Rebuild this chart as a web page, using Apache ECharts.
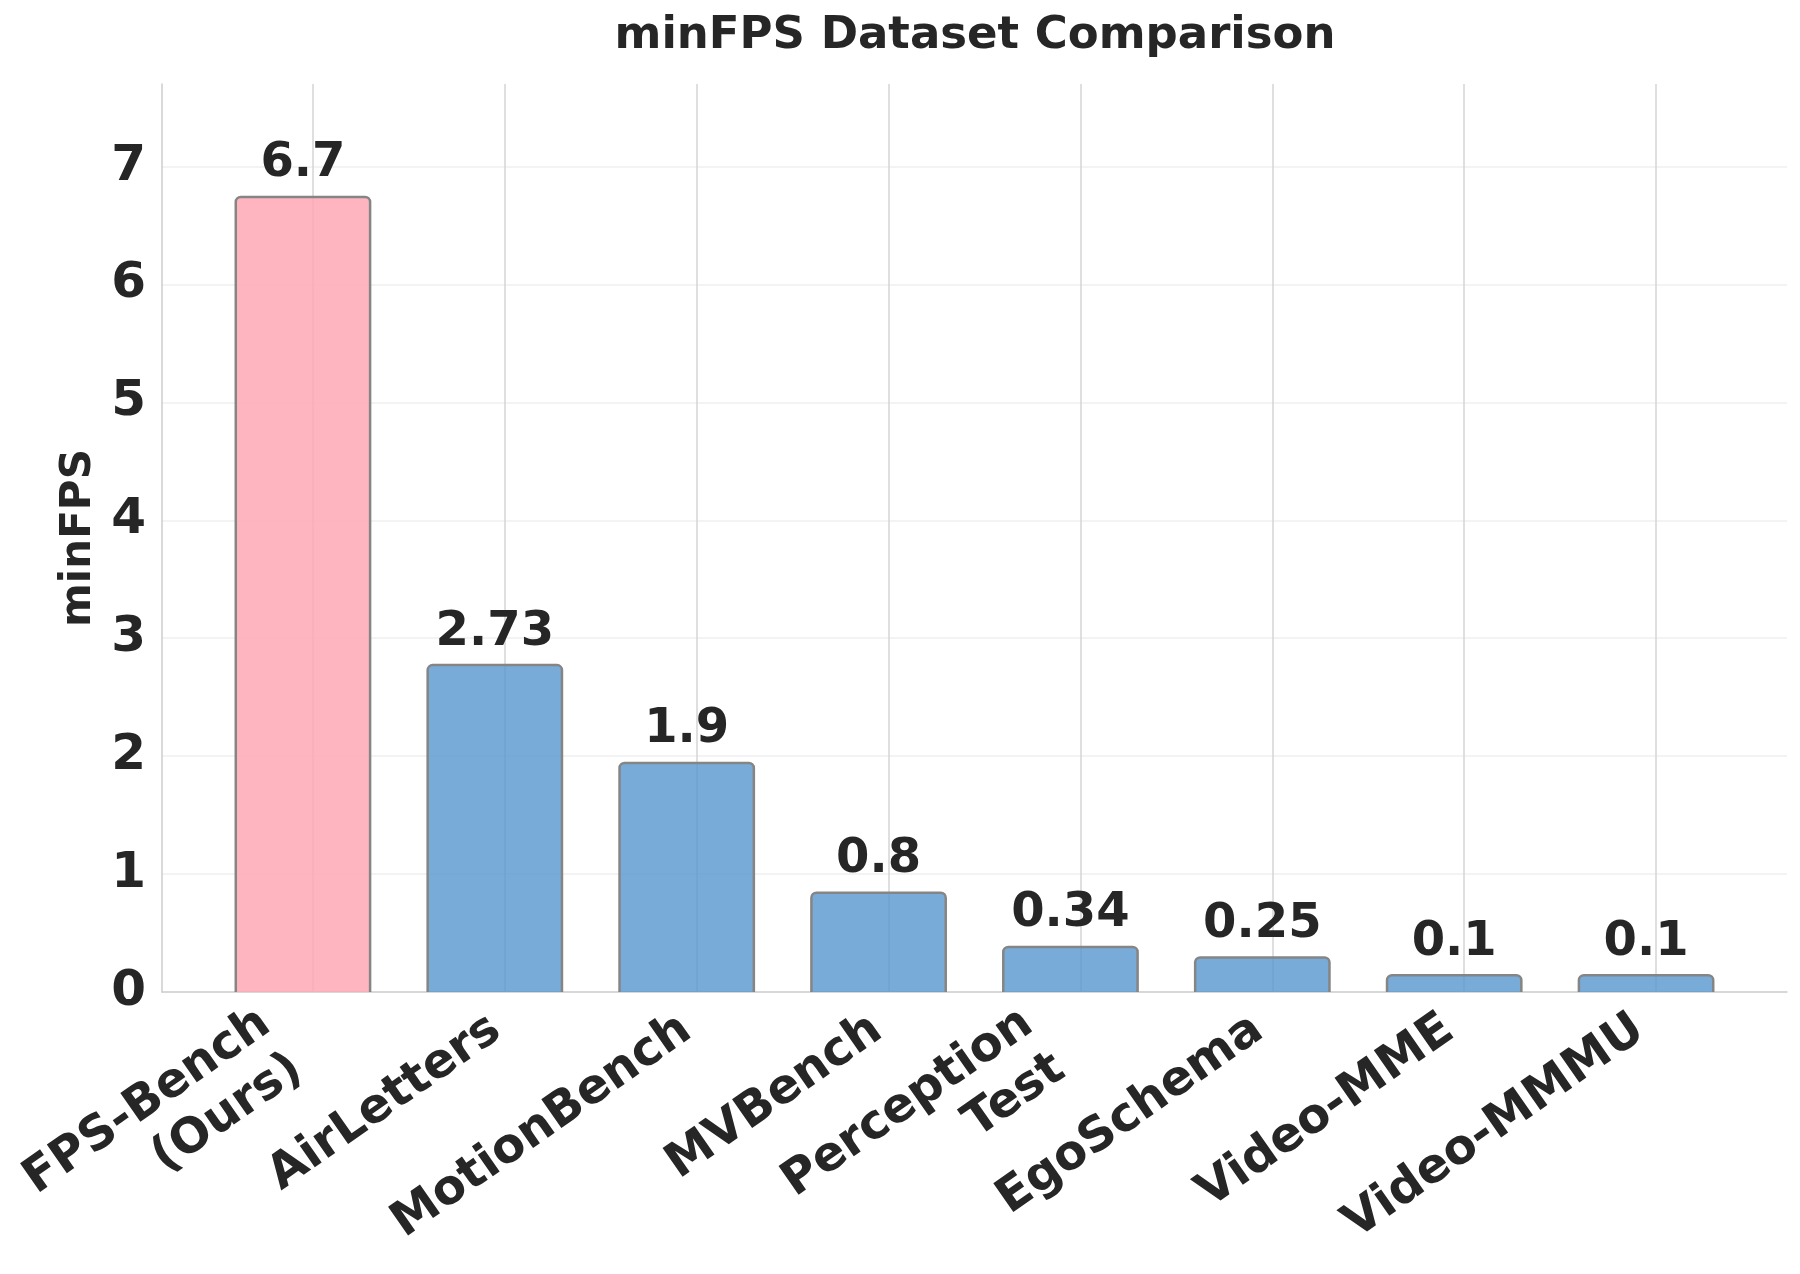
<!DOCTYPE html>
<html>
<head>
<meta charset="utf-8">
<script src="https://cdn.jsdelivr.net/npm/echarts@6/dist/echarts.min.js"></script>
<style>
  html, body { margin: 0; padding: 0; background: #fff; }
  #chart { width: 1800px; height: 1274px; }
</style>
</head>
<body>
<div id="chart"></div>
<script>
// datasets on the x axis
const datasets = ['FPS-Bench\n(Ours)', 'AirLetters', 'MotionBench', 'MVBench', 'Perception\nTest', 'EgoSchema', 'Video-MME', 'Video-MMMU']
// minFPS for each dataset
const minFps = [6.7, 2.73, 1.9, 0.8, 0.34, 0.25, 0.1, 0.1]
const yMax = 7.7

const font = 'DejaVu Sans'
const textColor = '#262626'

const chart = echarts.init(document.getElementById('chart'))

// grids: 0 = spines / y axis, 1 = vertical grid lines on the ticks,
// 2 = bars (drawn a little left of the ticks), 3 = rotated tick labels
const plotTop = 84
const plotBottom = 282
const hiddenY = { type: 'value', min: 0, max: yMax, interval: 1, show: false }

// two-line labels sit a bit lower/left than the single-line ones
const labelData = datasets.map(d => d.indexOf('\n') >= 0
  ? { value: d, textStyle: { padding: [40, 29, 0, 0] } }
  : d)

function renderBar(params, api) {
  const i = api.value(0)
  const v = api.value(1)
  const topPt = api.coord([i, v])
  const basePt = api.coord([i, 0])
  const w = api.size([1, 0])[0] * 0.7
  const pad = 5 // rounded box sticks out a little above the value
  const ours = datasets[i].indexOf('(Ours)') >= 0
  return {
    type: 'group',
    children: [
      {
        type: 'rect',
        shape: { x: topPt[0] - w / 2, y: topPt[1] - pad, width: w, height: basePt[1] - topPt[1] + pad + 6, r: 5 },
        style: {
          fill: ours ? 'rgba(255,168,181,0.85)' : 'rgba(88,150,207,0.8)',
          stroke: '#858585',
          lineWidth: 2.5
        }
      },
      {
        type: 'text',
        x: topPt[0],
        y: topPt[1] - 14,
        style: {
          text: String(v),
          align: 'center',
          verticalAlign: 'bottom',
          font: 'bold 48px "' + font + '"',
          fill: textColor
        }
      }
    ]
  }
}

chart.setOption({
  backgroundColor: '#fff',
  animation: false,
  title: {
    text: 'minFPS Dataset Comparison',
    left: 970,
    top: 9,
    textAlign: 'center',
    textStyle: { fontFamily: font, fontSize: 45, fontWeight: 'bold', color: textColor }
  },
  grid: [
    { left: 162, right: 13, top: plotTop, bottom: plotBottom },
    { left: 313, right: 144, top: plotTop, bottom: plotBottom },
    { left: 207, right: 58, top: plotTop, bottom: plotBottom },
    { left: 200, right: 65, top: plotTop, bottom: plotBottom }
  ],
  xAxis: [
    {
      gridIndex: 0, type: 'value', min: 0, max: 1,
      axisLine: { show: true, lineStyle: { color: '#cccccc', width: 1.5 } },
      axisTick: { show: false }, axisLabel: { show: false }, splitLine: { show: false }
    },
    {
      gridIndex: 1, type: 'category', data: datasets, boundaryGap: false,
      axisLine: { show: false }, axisTick: { show: false }, axisLabel: { show: false },
      splitLine: { show: true, interval: 0, lineStyle: { color: '#d4d4d4', width: 1.5 } }
    },
    {
      gridIndex: 2, type: 'category', data: datasets, show: false
    },
    {
      gridIndex: 3, type: 'category', data: labelData,
      axisLine: { show: false }, axisTick: { show: false }, splitLine: { show: false },
      axisLabel: {
        interval: 0, rotate: 35, margin: 36,
        fontFamily: font, fontSize: 48, fontWeight: 'bold', color: textColor, lineHeight: 56
      }
    }
  ],
  yAxis: [
    {
      gridIndex: 0, type: 'value', min: 0, max: yMax, interval: 1,
      name: 'minFPS', nameLocation: 'middle', nameGap: 40, nameRotate: 90,
      nameTextStyle: { fontFamily: font, fontSize: 42, fontWeight: 'bold', color: textColor },
      axisLine: { show: true, lineStyle: { color: '#cccccc', width: 1.5 } },
      axisTick: { show: false },
      axisLabel: {
        margin: 16, showMaxLabel: false, padding: [18, 0, 0, 0],
        fontFamily: font, fontSize: 50, fontWeight: 'bold', color: textColor
      },
      splitLine: { show: true, showMinLine: false, showMaxLine: false, lineStyle: { color: '#efefef', width: 1.5 } }
    },
    Object.assign({ gridIndex: 1 }, hiddenY),
    Object.assign({ gridIndex: 2 }, hiddenY),
    Object.assign({ gridIndex: 3 }, hiddenY)
  ],
  series: [
    {
      type: 'custom',
      xAxisIndex: 2,
      yAxisIndex: 2,
      clip: true,
      renderItem: renderBar,
      encode: { x: 0, y: 1 },
      data: minFps.map((v, i) => [i, v])
    }
  ]
})
</script>
</body>
</html>
